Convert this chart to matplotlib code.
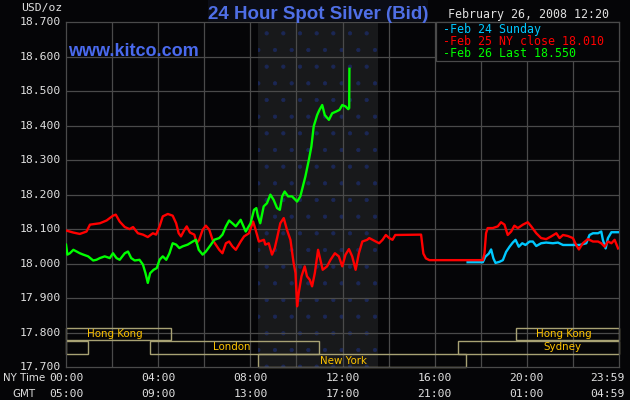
import matplotlib
matplotlib.use("Agg")
import matplotlib.pyplot as plt
from matplotlib.patches import Rectangle

# ---------------- data ----------------
feb24_hours = [17.43, 18.09, 18.20, 18.35, 18.45, 18.55, 18.64, 18.81, 18.96, 19.10, 19.25, 19.39,
               19.51, 19.65, 19.80, 19.94, 20.12, 20.26, 20.41, 20.62, 20.84, 21.13, 21.35, 21.57,
               22.00, 22.29, 22.58, 22.72, 22.87, 23.09, 23.23, 23.30, 23.42, 23.52, 23.67, 23.96]
feb24_prices = [18.004, 18.004, 18.020, 18.029, 18.041, 18.015, 18.002, 18.005, 18.010, 18.034, 18.049, 18.061,
                18.069, 18.049, 18.059, 18.054, 18.064, 18.064, 18.051, 18.059, 18.061, 18.059, 18.061, 18.054,
                18.054, 18.054, 18.059, 18.083, 18.088, 18.088, 18.093, 18.069, 18.044, 18.074, 18.091, 18.091]

feb25_hours = [0.00, 0.32, 0.60, 0.89, 1.04, 1.47, 1.76, 2.04, 2.16, 2.33, 2.55, 2.76, 2.91, 3.12, 3.34,
               3.55, 3.77, 3.91, 4.06, 4.20, 4.42, 4.63, 4.78, 4.89, 4.99, 5.14, 5.24, 5.38, 5.57, 5.67,
               5.78, 5.93, 6.07, 6.22, 6.36, 6.50, 6.65, 6.79, 6.94, 7.08, 7.22, 7.37, 7.58, 7.73, 7.94,
               8.12, 8.23, 8.37, 8.59, 8.65, 8.80, 8.94, 9.06, 9.16, 9.30, 9.45, 9.59, 9.74, 9.88, 9.96,
               10.03, 10.10, 10.22, 10.36, 10.46, 10.58, 10.68, 10.80, 10.94, 11.04, 11.14, 11.33, 11.48,
               11.67, 11.84, 11.99, 12.13, 12.28, 12.42, 12.57, 12.71, 12.86, 13.07, 13.16, 13.30, 13.45,
               13.59, 13.74, 13.88, 14.03, 14.17, 14.29, 15.41, 15.51, 15.62, 15.77, 18.09, 18.16, 18.23,
               18.30, 18.52, 18.74, 18.88, 19.03, 19.17, 19.32, 19.46, 19.61, 19.83, 20.04, 20.19, 20.41,
               20.62, 20.84, 21.06, 21.28, 21.42, 21.57, 21.78, 22.00, 22.14, 22.26, 22.43, 22.65, 22.87,
               23.09, 23.23, 23.38, 23.52, 23.67, 23.81, 23.96]
feb25_prices = [18.096, 18.090, 18.086, 18.093, 18.113, 18.117, 18.125, 18.139, 18.142, 18.122, 18.106, 18.100,
                18.106, 18.088, 18.084, 18.077, 18.088, 18.084, 18.108, 18.137, 18.144, 18.139, 18.117, 18.088,
                18.079, 18.098, 18.108, 18.090, 18.084, 18.059, 18.069, 18.098, 18.110, 18.098, 18.069, 18.055,
                18.040, 18.030, 18.059, 18.064, 18.050, 18.040, 18.064, 18.079, 18.088, 18.122, 18.098, 18.064,
                18.069, 18.055, 18.059, 18.026, 18.045, 18.074, 18.117, 18.132, 18.098, 18.069, 18.001, 17.973,
                17.876, 17.915, 17.963, 17.992, 17.963, 17.953, 17.934, 17.973, 18.040, 18.011, 17.982, 17.992,
                18.011, 18.030, 18.021, 17.992, 18.026, 18.042, 18.021, 17.982, 18.030, 18.064, 18.069, 18.074,
                18.069, 18.064, 18.059, 18.069, 18.083, 18.074, 18.069, 18.083, 18.084, 18.029, 18.015, 18.010,
                18.010, 18.029, 18.088, 18.103, 18.103, 18.108, 18.120, 18.113, 18.083, 18.093, 18.110, 18.103,
                18.113, 18.120, 18.108, 18.088, 18.074, 18.071, 18.079, 18.088, 18.074, 18.083, 18.080, 18.074,
                18.054, 18.041, 18.059, 18.071, 18.064, 18.064, 18.059, 18.049, 18.064, 18.059, 18.069, 18.044]

feb26_hours = [0.00, 0.06, 0.17, 0.32, 0.46, 0.60, 0.75, 0.96, 1.18, 1.32, 1.47, 1.68, 1.90, 2.04, 2.19,
               2.33, 2.55, 2.69, 2.83, 2.98, 3.19, 3.34, 3.45, 3.55, 3.65, 3.80, 3.94, 4.06, 4.20, 4.35,
               4.49, 4.63, 4.78, 4.92, 5.06, 5.28, 5.50, 5.64, 5.76, 5.93, 6.07, 6.29, 6.43, 6.65, 6.79,
               6.94, 7.08, 7.22, 7.37, 7.58, 7.80, 8.01, 8.16, 8.26, 8.33, 8.43, 8.58, 8.72, 8.87, 9.01,
               9.16, 9.28, 9.38, 9.49, 9.64, 9.81, 10.03, 10.17, 10.28, 10.39, 10.54, 10.65, 10.75, 10.90,
               11.00, 11.12, 11.23, 11.41, 11.55, 11.72, 11.87, 11.99, 12.13, 12.25, 12.29, 12.30]
feb26_prices = [18.055, 18.026, 18.030, 18.040, 18.035, 18.030, 18.026, 18.021, 18.009, 18.011, 18.016, 18.021,
                18.016, 18.030, 18.016, 18.011, 18.030, 18.035, 18.016, 18.009, 18.011, 17.997, 17.972, 17.944,
                17.972, 17.982, 17.987, 18.011, 18.021, 18.011, 18.030, 18.059, 18.055, 18.045, 18.050, 18.055,
                18.064, 18.069, 18.040, 18.026, 18.035, 18.055, 18.069, 18.074, 18.084, 18.108, 18.125, 18.117,
                18.108, 18.127, 18.093, 18.117, 18.156, 18.161, 18.137, 18.117, 18.166, 18.175, 18.200, 18.185,
                18.161, 18.156, 18.195, 18.209, 18.195, 18.195, 18.180, 18.195, 18.224, 18.253, 18.301, 18.340,
                18.398, 18.431, 18.446, 18.460, 18.431, 18.417, 18.436, 18.441, 18.446, 18.460, 18.456, 18.448,
                18.451, 18.565]

y_ticks = [17.7, 17.8, 17.9, 18.0, 18.1, 18.2, 18.3, 18.4, 18.5, 18.6, 18.7]
x_tick_hours = [0, 4, 8, 12, 16, 20, 23.98]
ny_labels = ["00:00", "04:00", "08:00", "12:00", "16:00", "20:00", "23:59"]
gmt_labels = ["05:00", "09:00", "13:00", "17:00", "21:00", "01:00", "04:59"]

legend_labels = ["-Feb 24 Sunday", "-Feb 25 NY close 18.010", "-Feb 26 Last 18.550"]
series_colors = ["#00c8ff", "#ff0000", "#00ff00"]

markets = ["Hong Kong", "Sydney", "London", "New York", "Sydney", "Hong Kong"]
market_start = [0.0, 0.0, 3.66, 8.34, 17.02, 19.52]
market_end = [4.54, 0.97, 11.0, 17.38, 24.0, 24.0]
market_row = [0, 1, 1, 2, 1, 0]
market_label_x = [2.13, None, 7.19, 12.06, 21.53, 21.6]

# ---------------- figure ----------------
W, H = 630, 400
BG = "#050507"
GRID = "#4a4a4a"
TXT = "#e0e0e0"
MONO = "DejaVu Sans Mono"
plt.rcParams["hatch.linewidth"] = 0.6

fig = plt.figure(figsize=(W / 100, H / 100), dpi=100, facecolor=BG)

def fx(x):
    return x / W

def fy(y):
    return 1 - y / H

ax_l, ax_r, ax_t, ax_b = 66, 619, 22.3, 367
ax = fig.add_axes([fx(ax_l), fy(ax_b), (ax_r - ax_l) / W, (ax_b - ax_t) / H])
ax.set_facecolor(BG)
ax.set_xlim(0, 24)
ax.set_ylim(17.7, 18.7)
ax.set_xticks([])
ax.set_yticks([])
for s in ax.spines.values():
    s.set_color(GRID)
    s.set_linewidth(0.9)

# NY session shading
ax.axvspan(8.33, 13.55, facecolor="#18191b", edgecolor="#1b2755", hatch=".",
           linewidth=0, zorder=0.5)

# grid
for v in y_ticks[1:-1]:
    ax.axhline(v, color=GRID, lw=0.9, zorder=1)
for h in range(2, 24, 2):
    ax.axvline(h, color=GRID, lw=0.9, zorder=1)

# market bars
row_bounds = [(0.077, 0.113), (0.039, 0.075), (0.0, 0.037)]
xt = ax.get_xaxis_transform()
for name, s, e, r, lx in zip(markets, market_start, market_end, market_row, market_label_x):
    b0, b1 = row_bounds[r]
    ax.add_patch(Rectangle((s, b0), e - s, b1 - b0, transform=xt, fill=False,
                           edgecolor="#a8a274", lw=1.0, zorder=2, clip_on=False))
    if lx is not None:
        ax.text(lx, (b0 + b1) / 2, name, transform=xt, ha="center", va="center",
                color="#ffc400", fontsize=7.4, family="DejaVu Sans", zorder=2.5)

# price lines
ax.plot(feb24_hours, feb24_prices, color=series_colors[0], lw=1.7, zorder=3)
ax.plot(feb25_hours, feb25_prices, color=series_colors[1], lw=1.7, zorder=4)
ax.plot(feb26_hours, feb26_prices, color=series_colors[2], lw=1.7, zorder=5)

# y tick labels
yt = ax.get_yaxis_transform()
for v in y_ticks:
    ax.text(-0.009, v, f"{v:.3f}", transform=yt, ha="right", va="center",
            color=TXT, fontsize=8.2, family=MONO)

# x tick labels
for h, a, b in zip(x_tick_hours, ny_labels, gmt_labels):
    ha = "center"
    xx = h
    if a == "23:59":
        ha = "right"
        xx = 24.25
    ax.text(xx, -0.032, a, transform=xt, ha=ha, va="center", color=TXT, fontsize=8.2, family=MONO)
    ax.text(xx, -0.078, b, transform=xt, ha=ha, va="center", color=TXT, fontsize=8.2, family=MONO)

fig.text(fx(3), fy(378), "NY Time", ha="left", va="center", color=TXT, fontsize=7.4, family="DejaVu Sans")
fig.text(fx(12), fy(394), "GMT", ha="left", va="center", color=TXT, fontsize=7.4, family="DejaVu Sans")
fig.text(fx(20.7), fy(8), "USD/oz", ha="left", va="center", color=TXT, fontsize=8.2, family=MONO)

# title
fig.patches.append(Rectangle((fx(208), fy(22)), (428 - 208) / W, 22 / H, transform=fig.transFigure,
                             facecolor="#0b0d16", edgecolor="none", zorder=0.1))
fig.text(fx(318), fy(19), "24 Hour Spot Silver (Bid)", ha="center", va="baseline",
         color="#4f6fe6", fontsize=13.5, fontweight="bold", family="Liberation Sans")
fig.text(fx(68), fy(56), "www.kitco.com", ha="left", va="baseline",
         color="#4a6aee", fontsize=13, fontweight="bold", family="Liberation Sans", zorder=6)

# date
fig.text(fx(447.7), fy(14.7), "February 26, 2008 12:20", ha="left", va="center",
         color=TXT, fontsize=8.4, family=MONO)

# legend box
fig.patches.append(Rectangle((fx(435.7), fy(61)), (619 - 435.7) / W, (61 - 22.3) / H,
                             transform=fig.transFigure, facecolor=BG, edgecolor=GRID,
                             lw=0.9, zorder=5))
for i, (lab, c) in enumerate(zip(legend_labels, series_colors)):
    fig.text(fx(443), fy(29.5 + 12 * i), lab, ha="left", va="center", color=c,
             fontsize=8.4, family=MONO, zorder=6)

fig.savefig("out.png", dpi=100, facecolor=BG)
